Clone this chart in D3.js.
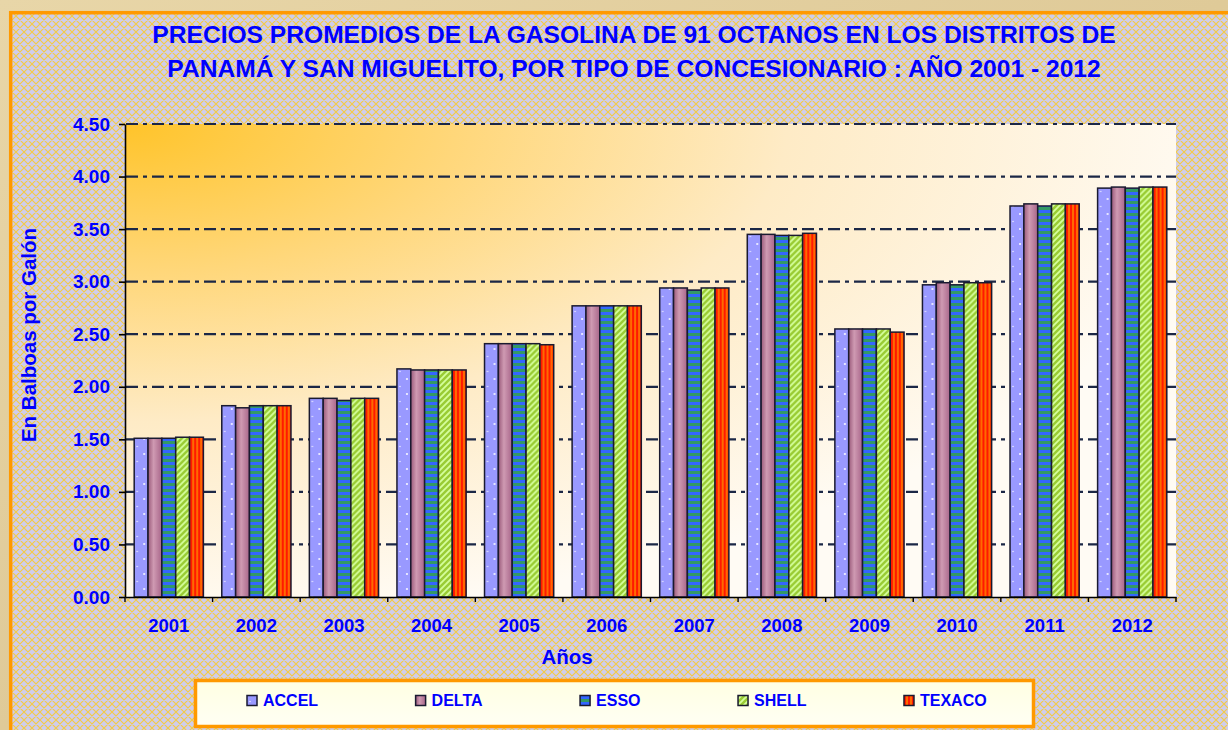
<!DOCTYPE html>
<html><head><meta charset="utf-8">
<script src="https://cdn.jsdelivr.net/npm/d3@7"></script>
<style>body{margin:0;background:#e3d0a0;overflow:hidden} svg{display:block}</style>
</head><body><svg id="c" width="1228" height="730"></svg>
<script>
// ---- data ----
const years = ["2001","2002","2003","2004","2005","2006","2007","2008","2009","2010","2011","2012"];
const seriesNames = ["ACCEL","DELTA","ESSO","SHELL","TEXACO"];
const accel  = [1.51,1.82,1.89,2.17,2.41,2.77,2.94,3.45,2.55,2.97,3.72,3.89];
const delta  = [1.51,1.80,1.89,2.16,2.41,2.77,2.94,3.45,2.55,2.99,3.74,3.90];
const esso   = [1.51,1.82,1.87,2.16,2.41,2.77,2.92,3.44,2.55,2.97,3.72,3.89];
const shell  = [1.52,1.82,1.89,2.16,2.41,2.77,2.94,3.44,2.55,2.99,3.74,3.90];
const texaco = [1.52,1.82,1.89,2.16,2.40,2.77,2.94,3.46,2.52,2.99,3.74,3.90];
const yTicks = [0,0.5,1,1.5,2,2.5,3,3.5,4,4.5];
const titleLines = ["PRECIOS PROMEDIOS DE LA GASOLINA DE 91 OCTANOS EN LOS DISTRITOS DE",
                    "PANAMÁ Y SAN MIGUELITO, POR TIPO DE CONCESIONARIO : AÑO 2001 - 2012"];
const yTitle = "En Balboas por Galón";
const xTitle = "Años";

const seriesValues = {ACCEL:accel, DELTA:delta, ESSO:esso, SHELL:shell, TEXACO:texaco};
const rows = years.map((y,i)=>({year:y, vals: seriesNames.map(s=>({key:s, value: seriesValues[s][i]}))}));

// ---- layout ----
const P = {left:125, right:1176, top:124, bottom:597};
const BLUE = "#0000ff";
const FONT = "'Liberation Sans', Arial, sans-serif";
const svg = d3.select("#c");
const defs = svg.append("defs");

// parchment
const pg = defs.append("linearGradient").attr("id","parch").attr("x1",0).attr("y1",0).attr("x2",1).attr("y2",1);
pg.append("stop").attr("offset",0).attr("stop-color","#e8d6a8");
pg.append("stop").attr("offset",0.5).attr("stop-color","#dfca98");
pg.append("stop").attr("offset",1).attr("stop-color","#e6d3a4");
svg.append("rect").attr("width",1228).attr("height",730).attr("fill","url(#parch)");

// background crosshatch
const bg = defs.append("pattern").attr("id","hatch").attr("patternUnits","userSpaceOnUse").attr("width",8).attr("height",8);
bg.append("rect").attr("width",8).attr("height",8).attr("fill","#cfcdec");
bg.append("path").attr("d","M0,0L8,8M8,0L0,8M-1,7L1,9M7,-1L9,1M-1,1L1,-1M7,9L9,7").attr("stroke","#f3cb46").attr("stroke-width",1.15);

// plot gradient
const rg = defs.append("radialGradient").attr("id","plotg").attr("cx",0).attr("cy",0).attr("r",1.05).attr("fx",0).attr("fy",0);
rg.append("stop").attr("offset",0).attr("stop-color","#ffc42a");
rg.append("stop").attr("offset",0.3).attr("stop-color","#ffd77a");
rg.append("stop").attr("offset",0.6).attr("stop-color","#feebc6");
rg.append("stop").attr("offset",1).attr("stop-color","#fffbf4");

// legend gradient
const lg = defs.append("linearGradient").attr("id","legg").attr("x1",0).attr("y1",0).attr("x2",0).attr("y2",1);
lg.append("stop").attr("offset",0).attr("stop-color","#ffffe2");
lg.append("stop").attr("offset",1).attr("stop-color","#fffff4");

// series fills
const pA = defs.append("pattern").attr("id","pACCEL").attr("patternUnits","userSpaceOnUse").attr("width",14).attr("height",15);
pA.append("rect").attr("width",14).attr("height",15).attr("fill","#9999ff");
pA.append("circle").attr("cx",10).attr("cy",4).attr("r",1).attr("fill","#ffffff");
pA.append("circle").attr("cx",3).attr("cy",11.5).attr("r",0.8).attr("fill","#e8e8ff");

const gD = defs.append("linearGradient").attr("id","pDELTA").attr("x1",0).attr("y1",0).attr("x2",1).attr("y2",0);
gD.append("stop").attr("offset",0).attr("stop-color","#9a5a7a");
gD.append("stop").attr("offset",0.4).attr("stop-color","#cf9ab2");
gD.append("stop").attr("offset",1).attr("stop-color","#a8668a");

const pE = defs.append("pattern").attr("id","pESSO").attr("patternUnits","userSpaceOnUse").attr("width",6).attr("height",6);
pE.append("rect").attr("width",6).attr("height",6).attr("fill","#3366ff");
pE.append("rect").attr("y",3).attr("width",6).attr("height",3).attr("fill","#339966");

const pS = defs.append("pattern").attr("id","pSHELL").attr("patternUnits","userSpaceOnUse").attr("width",6).attr("height",6);
pS.append("rect").attr("width",6).attr("height",6).attr("fill","#99cc33");
pS.append("path").attr("d","M-1,4L4,-1M-1,10L10,-1M5,10L10,5").attr("stroke","#d6ff9e").attr("stroke-width",1.8);

const pT = defs.append("pattern").attr("id","pTEXACO").attr("patternUnits","userSpaceOnUse").attr("width",4).attr("height",4);
pT.append("rect").attr("width",4).attr("height",4).attr("fill","#ff1a00");
pT.append("rect").attr("x",2).attr("width",2).attr("height",4).attr("fill","#ff6a00");

const fillOf = s => `url(#p${s})`;

// outer frame
svg.append("rect").attr("x",10.7).attr("y",12.7).attr("width",1260).attr("height",760)
  .attr("fill","url(#hatch)").attr("stroke","#ff9900").attr("stroke-width",3.5);

// scales
const y = d3.scaleLinear().domain([0,4.5]).range([P.bottom,P.top]);
const x0 = d3.scaleBand().domain(years).range([P.left,P.right]).paddingInner(0.21).paddingOuter(0.105);
const x1 = d3.scaleBand().domain(seriesNames).range([0,x0.bandwidth()]);

// plot area
svg.append("rect").attr("x",P.left).attr("y",P.top).attr("width",P.right-P.left).attr("height",P.bottom-P.top).attr("fill","url(#plotg)");

// grid lines
svg.append("g").selectAll("line").data(yTicks.filter(d=>d>0)).join("line")
  .attr("x1",P.left+1).attr("x2",P.right).attr("y1",d=>y(d)).attr("y2",d=>y(d))
  .attr("stroke","#1b2746").attr("stroke-width",2.2).attr("stroke-dasharray","12,5,4,5");

// bars
const groups = svg.append("g").selectAll("g").data(rows).join("g").attr("transform",d=>`translate(${x0(d.year)},0)`);
groups.selectAll("rect").data(d=>d.vals).join("rect")
  .attr("x",d=>x1(d.key)).attr("width",x1.bandwidth())
  .attr("y",d=>y(d.value)).attr("height",d=>y(0)-y(d.value))
  .attr("fill",d=>fillOf(d.key)).attr("stroke","#1a1a30").attr("stroke-width",1.5);

// y axis
const ya = svg.append("g").attr("transform",`translate(${P.left},0)`)
  .call(d3.axisLeft(y).tickValues(yTicks).tickFormat(d3.format(".2f")).tickSizeInner(6).tickSizeOuter(0).tickPadding(9));
ya.select(".domain").attr("stroke","#000").attr("stroke-width",1.6);
ya.selectAll(".tick line").attr("stroke","#000").attr("stroke-width",1.6);
ya.selectAll(".tick text").attr("fill",BLUE).style("font-family",FONT).style("font-weight","bold").style("font-size","19px");

// x axis
const xa = svg.append("g").attr("transform",`translate(0,${P.bottom})`)
  .call(d3.axisBottom(x0).tickSizeInner(0).tickSizeOuter(0).tickPadding(22));
xa.select(".domain").attr("stroke","#000").attr("stroke-width",1.6);
xa.selectAll(".tick text").attr("fill",BLUE).style("font-family",FONT).style("font-weight","bold").style("font-size","18.5px");
const gap = (x0.step()-x0.bandwidth())/2;
xa.append("g").selectAll("line").data(years.map(d=>x0(d)-gap).concat([P.right])).join("line")
  .attr("x1",d=>d).attr("x2",d=>d).attr("y1",0).attr("y2",5).attr("stroke","#000").attr("stroke-width",1.4);

// titles
svg.append("g").selectAll("text").data(titleLines).join("text")
  .attr("x",634).attr("y",(d,i)=>43+i*34).attr("text-anchor","middle")
  .attr("fill",BLUE).style("font-family",FONT).style("font-weight","bold").style("font-size","24.6px").text(d=>d);
svg.append("text").attr("transform","translate(36,335) rotate(-90)").attr("text-anchor","middle")
  .attr("fill",BLUE).style("font-family",FONT).style("font-weight","bold").style("font-size","20.5px").text(yTitle);
svg.append("text").attr("x",567).attr("y",664).attr("text-anchor","middle")
  .attr("fill",BLUE).style("font-family",FONT).style("font-weight","bold").style("font-size","20.5px").text(xTitle);

// legend
svg.append("rect").attr("x",195.5).attr("y",680.5).attr("width",838).attr("height",46)
  .attr("fill","url(#legg)").attr("stroke","#ff9900").attr("stroke-width",3.5);
const leg = svg.append("g");
let lx = 247;
seriesNames.forEach(s=>{
  const g = leg.append("g").attr("transform",`translate(${lx},0)`);
  g.append("rect").attr("x",0).attr("y",695.5).attr("width",10).attr("height",10).attr("fill",fillOf(s)).attr("stroke","#1a1a30").attr("stroke-width",1.5);
  const t = g.append("text").attr("x",16).attr("y",706).attr("fill",BLUE)
    .style("font-family",FONT).style("font-weight","bold").style("font-size","16px").text(s);
  lx += 16 + t.node().getComputedTextLength() + 97.5;
});
</script></body></html>
